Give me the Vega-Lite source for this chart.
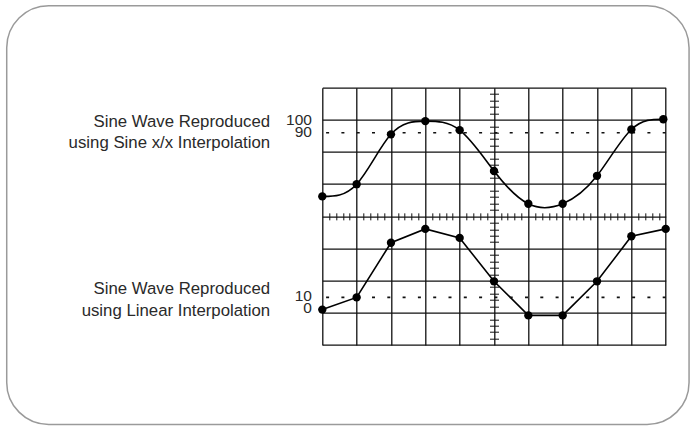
{
  "$schema": "https://vega.github.io/schema/vega-lite/v6.json",
  "width": 343.4,
  "height": 257.3,
  "autosize": {"type": "none"},
  "padding": {"left": 322.3, "top": 87.7, "right": 24.3, "bottom": 81},
  "background": "white",
  "config": {"view": {"stroke": null}, "text": {"font": "Liberation Sans", "fontSize": 16, "color": "#2a2a2a"}},
  "datasets": {
    "traces": [
      {"series": "sinc", "x": 0, "y": 4.62},
      {"series": "sinc", "x": 1, "y": 5.0},
      {"series": "sinc", "x": 2, "y": 6.55},
      {"series": "sinc", "x": 3, "y": 6.96},
      {"series": "sinc", "x": 4, "y": 6.68},
      {"series": "sinc", "x": 5, "y": 5.41},
      {"series": "sinc", "x": 6, "y": 4.39},
      {"series": "sinc", "x": 7, "y": 4.39},
      {"series": "sinc", "x": 8, "y": 5.26},
      {"series": "sinc", "x": 9, "y": 6.70},
      {"series": "sinc", "x": 9.93, "y": 7.02},
      {"series": "linear", "x": 0, "y": 1.10},
      {"series": "linear", "x": 1, "y": 1.48},
      {"series": "linear", "x": 2, "y": 3.18},
      {"series": "linear", "x": 3, "y": 3.61},
      {"series": "linear", "x": 4, "y": 3.33},
      {"series": "linear", "x": 5, "y": 1.98},
      {"series": "linear", "x": 6, "y": 0.92},
      {"series": "linear", "x": 7, "y": 0.92},
      {"series": "linear", "x": 8, "y": 1.98},
      {"series": "linear", "x": 9, "y": 3.38},
      {"series": "linear", "x": 10, "y": 3.61}
    ],
    "frame": [{"x": -9.19, "x2": 10.68, "y": 10.55, "y2": -2.47}],
    "refs": [{"y": 6.6}, {"y": 1.48}],
    "labels": [
      {"kind": "num", "text": "100", "x": -0.3, "y": 6.841},
      {"kind": "num", "text": "90", "x": -0.3, "y": 6.468},
      {"kind": "num", "text": "10", "x": -0.3, "y": 1.368},
      {"kind": "num", "text": "0", "x": -0.3, "y": 0.995},
      {"kind": "title", "text": "Sine Wave Reproduced", "x": -1.52, "y": 6.79},
      {"kind": "title", "text": "using Sine x/x Interpolation", "x": -1.52, "y": 6.14},
      {"kind": "title", "text": "Sine Wave Reproduced", "x": -1.52, "y": 1.586},
      {"kind": "title", "text": "using Linear Interpolation", "x": -1.52, "y": 0.917}
    ]
  },
  "layer": [
    {
      "data": {"name": "frame"},
      "mark": {"type": "rect", "fillOpacity": 0, "fill": "white", "stroke": "#9a9a9a", "strokeWidth": 1.5, "cornerRadius": 42, "clip": false},
      "encoding": {
        "x": {"field": "x", "type": "quantitative", "scale": {"domain": [0, 10], "nice": false, "zero": false},
          "axis": {"values": [0,1,2,3,4,5,6,7,8,9,10], "grid": true, "gridColor": "#111", "gridWidth": 1.3, "gridOpacity": 1, "labels": false, "ticks": false, "domain": false, "title": null}},
        "x2": {"field": "x2"},
        "y": {"field": "y", "type": "quantitative", "scale": {"domain": [0, 8], "nice": false, "zero": false},
          "axis": {"values": [0,1,2,3,4,5,6,7,8], "grid": true, "gridColor": "#111", "gridWidth": 1.3, "gridOpacity": 1, "labels": false, "ticks": false, "domain": false, "title": null}},
        "y2": {"field": "y2"}
      }
    },
    {
      "data": {"name": "traces"},
      "transform": [{"filter": "datum.series == 'sinc'"}],
      "mark": {"type": "line", "interpolate": "natural", "color": "black", "strokeWidth": 1.6},
      "encoding": {
        "x": {"field": "x", "type": "quantitative", "scale": {"domain": [0, 10], "nice": false, "zero": false},
          "axis": {"orient": "bottom", "offset": -128.65, "values": [0.2,0.4,0.6,0.8,1.2,1.4,1.6,1.8,2.2,2.4,2.6,2.8,3.2,3.4,3.6,3.8,4.2,4.4,4.6,4.8,5.2,5.4,5.6,5.8,6.2,6.4,6.6,6.8,7.2,7.4,7.6,7.8,8.2,8.4,8.6,8.8,9.2,9.4,9.6,9.8], "grid": false, "labels": false, "domain": false, "ticks": true, "tickSize": 3.5, "tickColor": "#111", "tickWidth": 1, "title": null}},
        "y": {"field": "y", "type": "quantitative", "scale": {"domain": [0, 8], "nice": false, "zero": false},
          "axis": {"orient": "left", "offset": -171.7, "values": [0.2,0.4,0.6,0.8,1.2,1.4,1.6,1.8,2.2,2.4,2.6,2.8,3.2,3.4,3.6,3.8,4.2,4.4,4.6,4.8,5.2,5.4,5.6,5.8,6.2,6.4,6.6,6.8,7.2,7.4,7.6,7.8], "grid": false, "labels": false, "domain": false, "ticks": true, "tickSize": 4.5, "tickColor": "#111", "tickWidth": 1, "title": null}}
      }
    },
    {
      "data": {"name": "traces"},
      "transform": [{"filter": "datum.series == 'linear'"}],
      "mark": {"type": "line", "interpolate": "linear", "color": "black", "strokeWidth": 1.6},
      "encoding": {
        "x": {"field": "x", "type": "quantitative", "scale": {"domain": [0, 10], "nice": false, "zero": false},
          "axis": {"orient": "top", "offset": -128.65, "values": [0.2,0.4,0.6,0.8,1.2,1.4,1.6,1.8,2.2,2.4,2.6,2.8,3.2,3.4,3.6,3.8,4.2,4.4,4.6,4.8,5.2,5.4,5.6,5.8,6.2,6.4,6.6,6.8,7.2,7.4,7.6,7.8,8.2,8.4,8.6,8.8,9.2,9.4,9.6,9.8], "grid": false, "labels": false, "domain": false, "ticks": true, "tickSize": 3.5, "tickColor": "#111", "tickWidth": 1, "title": null}},
        "y": {"field": "y", "type": "quantitative", "scale": {"domain": [0, 8], "nice": false, "zero": false},
          "axis": {"orient": "right", "offset": -171.7, "values": [0.2,0.4,0.6,0.8,1.2,1.4,1.6,1.8,2.2,2.4,2.6,2.8,3.2,3.4,3.6,3.8,4.2,4.4,4.6,4.8,5.2,5.4,5.6,5.8,6.2,6.4,6.6,6.8,7.2,7.4,7.6,7.8], "grid": false, "labels": false, "domain": false, "ticks": true, "tickSize": 4.5, "tickColor": "#111", "tickWidth": 1, "title": null}}
      }
    },
    {
      "data": {"name": "refs"},
      "mark": {"type": "rule", "color": "#111", "strokeWidth": 1.6, "strokeDash": [3, 12.3]},
      "encoding": {
        "y": {"field": "y", "type": "quantitative", "scale": {"domain": [0, 8], "nice": false, "zero": false}, "axis": null}
      }
    },
    {
      "data": {"name": "traces"},
      "mark": {"type": "circle", "color": "black", "opacity": 1, "size": 70},
      "encoding": {
        "x": {"field": "x", "type": "quantitative", "scale": {"domain": [0, 10], "nice": false, "zero": false}, "axis": null},
        "y": {"field": "y", "type": "quantitative", "scale": {"domain": [0, 8], "nice": false, "zero": false}, "axis": null}
      }
    },
    {
      "data": {"name": "labels"},
      "transform": [{"filter": "datum.kind == 'num'"}],
      "mark": {"type": "text", "align": "right", "baseline": "alphabetic", "fontSize": 15.5},
      "encoding": {
        "x": {"field": "x", "type": "quantitative", "scale": {"domain": [0, 10], "nice": false, "zero": false}, "axis": null},
        "y": {"field": "y", "type": "quantitative", "scale": {"domain": [0, 8], "nice": false, "zero": false}, "axis": null},
        "text": {"field": "text", "type": "nominal"}
      }
    },
    {
      "data": {"name": "labels"},
      "transform": [{"filter": "datum.kind == 'title'"}],
      "mark": {"type": "text", "align": "right", "baseline": "alphabetic", "fontSize": 16.8},
      "encoding": {
        "x": {"field": "x", "type": "quantitative", "scale": {"domain": [0, 10], "nice": false, "zero": false}, "axis": null},
        "y": {"field": "y", "type": "quantitative", "scale": {"domain": [0, 8], "nice": false, "zero": false}, "axis": null},
        "text": {"field": "text", "type": "nominal"}
      }
    }
  ],
  "resolve": {"axis": {"x": "independent", "y": "independent"}}
}
